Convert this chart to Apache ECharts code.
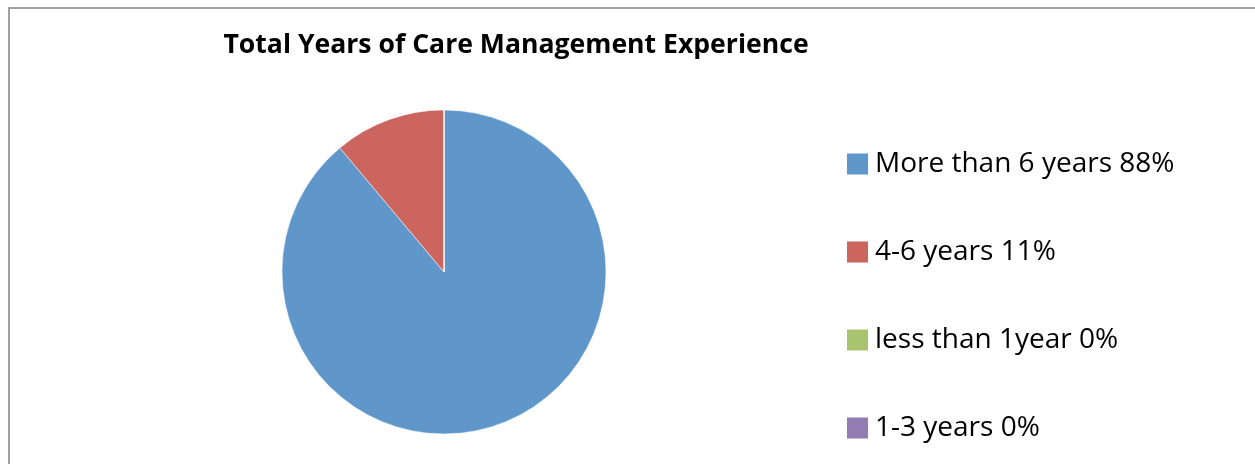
<!DOCTYPE html>
<html>
<head>
<meta charset="utf-8">
<script src="https://cdn.jsdelivr.net/npm/echarts@6/dist/echarts.min.js"></script>
<style>
html,body{margin:0;padding:0;background:#fff;}
#chart{width:1255px;height:464px;}
</style>
</head>
<body>
<div id="chart"></div>
<script>
const titleText = 'Total Years of Care Management Experience';
const categories = ['More than 6 years 88%', '4-6 years 11%', 'less than 1year 0%', '1-3 years 0%'];
const values = [88, 11, 0, 0];
const colors = ['#5f97cb', '#cc655e', '#a9c46e', '#937cb2'];

const chart = echarts.init(document.getElementById('chart'), null, {renderer: 'canvas'});
chart.setOption({
  animation: false,
  color: colors,
  graphic: [{
    type: 'rect',
    silent: true,
    shape: {x: 9, y: 8, width: 2000, height: 1000},
    style: {fill: 'none', stroke: '#a0a0a0', lineWidth: 2}
  }],
  title: {
    text: titleText,
    left: 516,
    textAlign: 'center',
    top: 32,
    padding: 0,
    textStyle: {fontFamily: 'Open Sans', fontWeight: 'bold', fontSize: 26.6, color: '#000'}
  },
  legend: {
    orient: 'vertical',
    left: 845,
    top: 150,
    height: 400,
    padding: 0,
    itemWidth: 23,
    itemHeight: 23,
    itemGap: 60,
    icon: 'rect',
    selectedMode: false,
    data: categories,
    textStyle: {fontFamily: 'Open Sans', fontSize: 28, color: '#000', padding: [0, 0, 0, 1]}
  },
  series: [{
    type: 'pie',
    center: [444, 272],
    radius: 162,
    startAngle: 90,
    clockwise: true,
    silent: true,
    label: {show: false},
    labelLine: {show: false},
    itemStyle: {borderColor: '#ffffff', borderWidth: 0.5},
    data: categories.map((c, i) => ({name: c, value: values[i]}))
  }]
});
</script>
</body>
</html>
